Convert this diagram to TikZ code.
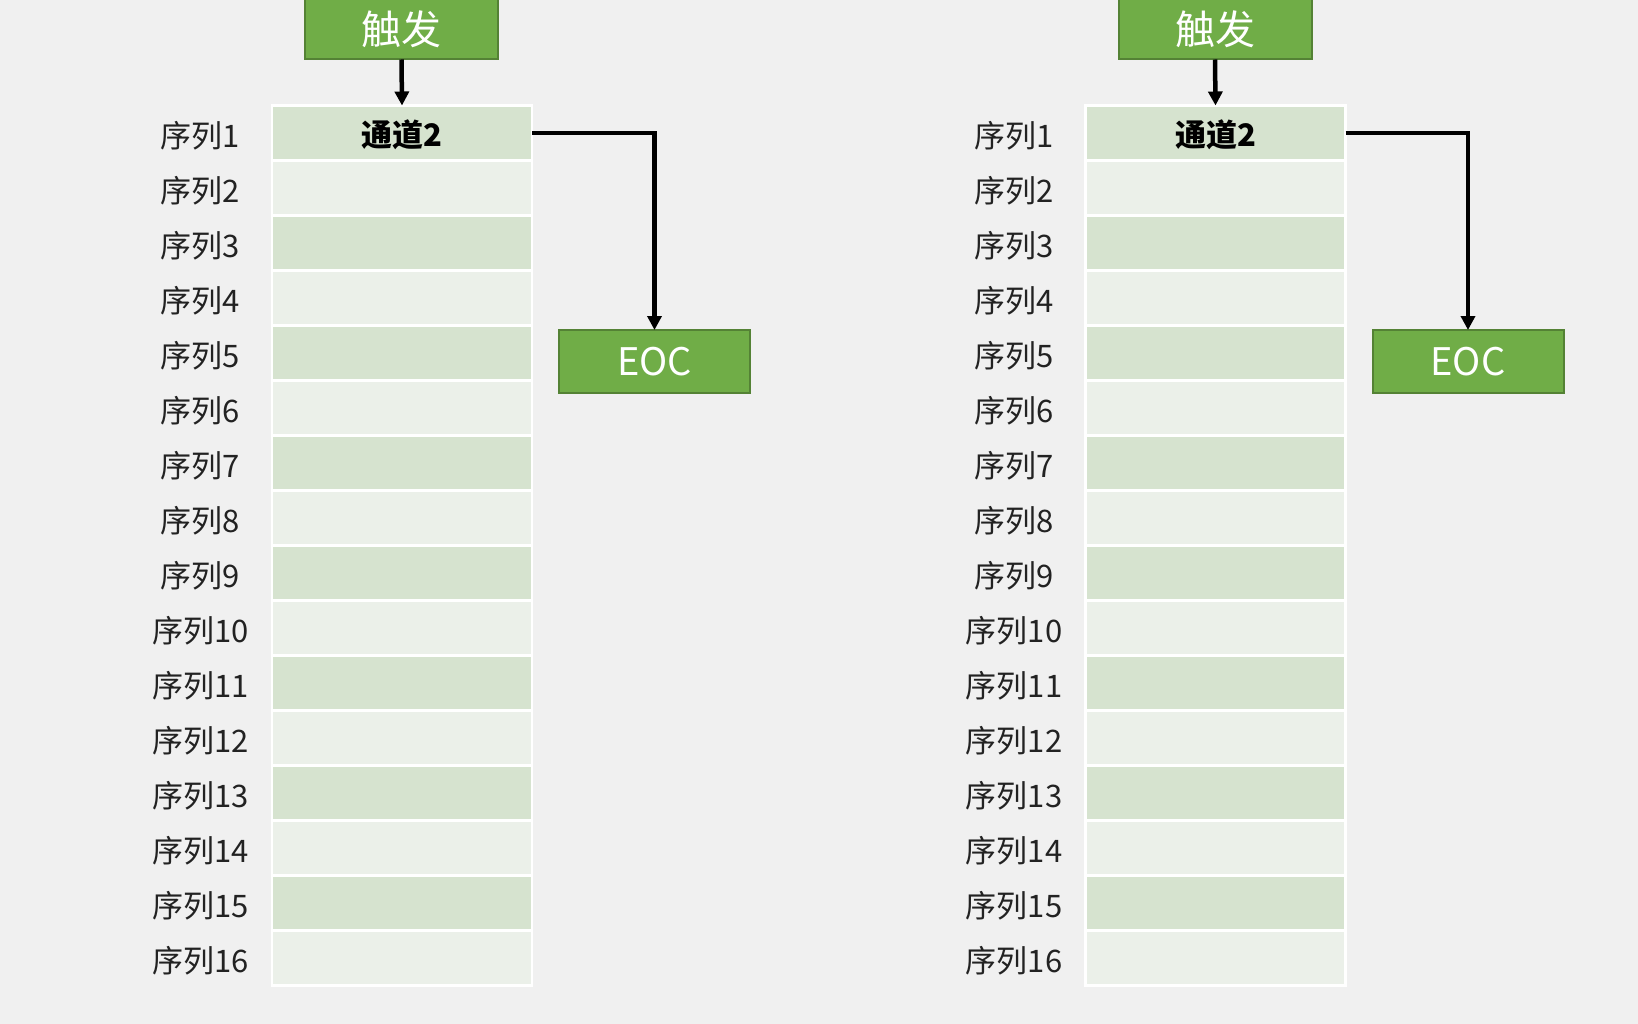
\documentclass[tikz,border=0pt]{standalone}
\usepackage{fontspec}
\setmainfont{Noto Sans CJK SC}
\usetikzlibrary{arrows.meta}
\definecolor{bg}{HTML}{F0F0F0}
\definecolor{gfill}{HTML}{70AD47}
\definecolor{gline}{HTML}{548235}
\definecolor{rowdark}{HTML}{D6E3CF}
\definecolor{rowlight}{HTML}{EBF0E9}
\definecolor{txt}{HTML}{222222}
\begin{document}
\begin{tikzpicture}[x=1pt,y=-1pt,
  greenbox/.style={draw=gline,line width=2pt,fill=gfill,text=white,inner sep=0pt,outer sep=0pt},
  cell/.style={draw=white,line width=2.5pt,minimum width=260pt,minimum height=55pt,inner sep=0pt,outer sep=0pt},
  seqlabel/.style={text=txt,font=\fontsize{31}{31}\selectfont,inner sep=0pt},
  celltitle/.style={text=black,font=\bfseries\fontsize{31}{31}\selectfont,inner sep=0pt},
  conn/.style={line width=4.5pt,-{Triangle[length=14pt,width=14pt]}}]
\fill[bg] (0,0) rectangle (1638,1024);
\useasboundingbox (0,0) rectangle (1638,1024);
\foreach \p/\dx in {A/0,B/813.5}{
  \node[greenbox,minimum width=193pt,minimum height=61pt,font=\fontsize{40}{40}\selectfont] (trig\p) at (401.5+\dx,29) {触发};
  \foreach \i in {1,...,16}{
    \pgfmathsetmacro\yy{133+55*(\i-1)}
    \pgfmathsetmacro\ly{135.5+55*(\i-1)}
    \ifodd\i \def\cf{rowdark}\else\def\cf{rowlight}\fi
    \node[cell,fill=\cf] (row\p\i) at (402+\dx,\yy) {};
    \node[seqlabel] (lab\p\i) at (200.5+\dx,\ly) {序列\i};
  }
  \node[celltitle] (title\p) at ([yshift=-2pt]row\p1.center) {通道2};
  \node[greenbox,minimum width=191pt,minimum height=63pt,font=\fontsize{38}{38}\selectfont] (eoc\p) at (654.5+\dx,361.5) {EOC};
  \draw[conn] (trig\p.south) -- (row\p1.north);
  \draw[conn] (row\p1.east) -| (eoc\p.north);
}
\end{tikzpicture}
\end{document}
